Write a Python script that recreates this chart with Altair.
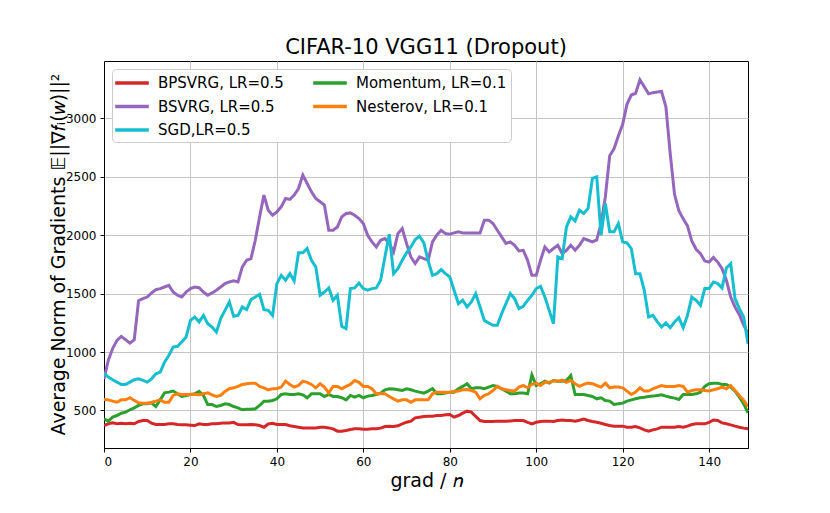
import altair as alt
import pandas as pd

steps = list(range(150))

bpsvrg = [371, 386, 394, 386, 391, 386, 391, 386, 406, 414, 414, 391, 380, 380, 380, 386, 386, 380, 377, 377,
          374, 371, 386, 380, 380, 386, 386, 391, 394, 394, 399, 380, 377, 377, 380, 377, 371, 357, 385, 391,
          380, 380, 380, 369, 363, 357, 351, 351, 351, 351, 357, 357, 351, 343, 323, 323, 329, 337, 343, 343,
          340, 340, 343, 343, 349, 363, 366, 363, 369, 386, 400, 409, 437, 443, 449, 451, 451, 457, 457, 463,
          466, 443, 457, 477, 494, 486, 449, 414, 406, 406, 406, 409, 409, 409, 411, 414, 414, 414, 399, 386,
          399, 406, 409, 409, 406, 414, 419, 414, 414, 409, 417, 426, 414, 406, 399, 391, 380, 371, 366, 366,
          366, 357, 357, 363, 351, 334, 323, 334, 343, 357, 357, 357, 357, 363, 357, 366, 380, 386, 386, 386,
          399, 419, 414, 394, 386, 377, 366, 357, 349, 343]

bsvrg = [770, 930, 1030, 1100, 1134, 1106, 1077, 1106, 1440, 1457, 1471, 1506, 1534, 1543, 1557, 1571, 1514, 1486, 1471, 1514,
         1543, 1557, 1551, 1514, 1486, 1506, 1529, 1557, 1586, 1600, 1609, 1600, 1729, 1786, 1800, 1957, 2157, 2343, 2214, 2171,
         2200, 2243, 2314, 2306, 2343, 2400, 2514, 2443, 2371, 2314, 2286, 2257, 2043, 2043, 2071, 2157, 2186, 2191, 2171, 2143,
         2100, 2000, 1943, 1900, 1957, 1971, 1929, 1857, 2014, 2057, 1929, 1814, 1757, 1814, 1800, 1786, 1943, 2000, 2043, 2014,
         2009, 2020, 2029, 2020, 2020, 2020, 2020, 2020, 2129, 2129, 2100, 2043, 1986, 1929, 1943, 1914, 1866, 1871, 1786, 1657,
         1657, 1786, 1900, 1857, 1886, 1914, 1843, 1871, 1914, 1871, 1914, 1971, 1957, 1943, 1960, 2100, 2330, 2680, 2740, 2850,
         2950, 3120, 3200, 3215, 3330, 3270, 3210, 3220, 3225, 3230, 3100, 2700, 2350, 2210, 2140, 2080, 1950, 1880, 1843, 1780,
         1770, 1810, 1770, 1714, 1614, 1471, 1386, 1320, 1230, 1160]

sgd = [820, 786, 763, 743, 723, 723, 743, 763, 771, 757, 743, 771, 814, 829, 914, 971, 1043, 1049, 1086, 1129,
       1271, 1300, 1257, 1314, 1243, 1214, 1171, 1286, 1357, 1429, 1306, 1314, 1386, 1363, 1449, 1471, 1494, 1363, 1357, 1314,
       1586, 1657, 1614, 1671, 1609, 1849, 1849, 1886, 1786, 1729, 1486, 1514, 1549, 1443, 1486, 1220, 1200, 1543, 1549, 1591,
       1543, 1529, 1543, 1549, 1614, 1814, 2009, 1671, 1714, 1786, 1849, 1900, 1963, 1991, 1934, 1780, 1657, 1671, 1706, 1671,
       1643, 1529, 1414, 1443, 1386, 1429, 1500, 1386, 1271, 1249, 1229, 1229, 1329, 1414, 1500, 1457, 1371, 1391, 1443, 1486,
       1543, 1563, 1471, 1357, 1243, 1814, 1800, 2071, 2157, 2123, 2214, 2186, 2229, 2486, 2500, 2000, 2271, 2029, 2029, 2100,
       1943, 1934, 1886, 1671, 1671, 1529, 1300, 1314, 1260, 1214, 1249, 1209, 1257, 1294, 1209, 1314, 1471, 1443, 1400, 1543,
       1543, 1600, 1586, 1549, 1720, 1757, 1457, 1371, 1300, 1071]

momentum = [429, 409, 443, 457, 477, 486, 506, 523, 543, 557, 557, 566, 534, 591, 651, 657, 666, 643, 620, 629,
            637, 643, 663, 629, 551, 551, 534, 543, 557, 551, 534, 523, 506, 511, 511, 514, 543, 580, 580, 586,
            600, 637, 643, 637, 637, 643, 634, 609, 643, 643, 643, 620, 637, 620, 620, 609, 591, 629, 614, 629,
            609, 623, 629, 637, 649, 677, 686, 683, 677, 671, 686, 677, 666, 657, 649, 666, 686, 643, 643, 649,
            657, 657, 686, 706, 729, 686, 694, 694, 686, 700, 714, 706, 686, 666, 643, 643, 649, 649, 643, 805,
            714, 729, 751, 734, 757, 751, 751, 757, 800, 637, 637, 637, 629, 620, 600, 609, 586, 580, 551, 557,
            563, 580, 591, 600, 609, 614, 620, 623, 629, 634, 623, 614, 606, 594, 637, 637, 637, 643, 657, 706,
            729, 734, 734, 723, 723, 700, 666, 614, 557, 480]

nesterov = [594, 591, 580, 571, 591, 591, 609, 586, 566, 563, 563, 571, 580, 591, 571, 571, 629, 643, 637, 637,
            637, 637, 634, 643, 651, 634, 620, 629, 663, 686, 694, 706, 723, 729, 734, 734, 706, 694, 677, 686,
            686, 700, 751, 723, 700, 714, 751, 741, 723, 694, 729, 700, 651, 706, 706, 686, 706, 723, 757, 741,
            706, 706, 686, 643, 643, 643, 620, 600, 580, 591, 591, 571, 591, 591, 591, 591, 643, 657, 657, 657,
            657, 663, 666, 677, 680, 671, 657, 600, 629, 643, 671, 706, 686, 677, 671, 666, 700, 714, 694, 723,
            734, 714, 741, 741, 754, 751, 760, 741, 757, 729, 706, 723, 734, 729, 714, 700, 734, 694, 700, 700,
            694, 666, 637, 657, 694, 666, 666, 686, 700, 714, 706, 706, 706, 714, 706, 657, 671, 677, 677, 671,
            666, 677, 686, 700, 686, 714, 671, 629, 586, 534]

names = ["BPSVRG, LR=0.5", "BSVRG, LR=0.5", "SGD,LR=0.5", "Momentum, LR=0.1", "Nesterov, LR=0.1"]
colors = ["#d62728", "#9467bd", "#17becf", "#2ca02c", "#ff7f0e"]
series = [bpsvrg, bsvrg, sgd, momentum, nesterov]

x_ticks = [0, 20, 40, 60, 80, 100, 120, 140]
y_ticks = [500, 1000, 1500, 2000, 2500, 3000]

rows = []
for name, vals in zip(names, series):
    for s, v in zip(steps, vals):
        rows.append({"step": s, "value": v, "series": name})
df = pd.DataFrame(rows)

FONT = "DejaVu Sans"

color_enc = alt.Color(
    "series:N",
    scale=alt.Scale(domain=names, range=colors),
    legend=alt.Legend(
        title=None,
        orient="none",
        legendX=8,
        legendY=8,
        columns=2,
        columnPadding=22,
        rowPadding=5.5,
        symbolType="M-2.1,0H2.1",
        symbolSize=256,
        symbolStrokeWidth=3.5,
        symbolOffset=6,
        labelFontSize=15,
        labelFont=FONT,
        labelColor="black",
        labelOffset=16,
        padding=4,
        fillColor="white",
        strokeColor="#cccccc",
        cornerRadius=4,
        labelLimit=300,
    ),
)

x_enc = alt.X(
    "step:Q",
    scale=alt.Scale(domain=[0, 149], nice=False, zero=False),
    axis=alt.Axis(
        values=x_ticks,
        title="grad / 𝑛",
        titleFontSize=19,
        titleFont=FONT,
        titleFontWeight="normal",
        titleColor="black",
        titleY=38,
        titleBaseline="alphabetic",
    ),
)
y_enc = alt.Y(
    "value:Q",
    scale=alt.Scale(domain=[179, 3491], nice=False, zero=False),
    axis=alt.Axis(
        values=y_ticks,
        format="d",
        title="Average Norm of Gradients 𝔼||∇𝑓ᵢ(𝑤)||²",
        titleFontSize=19,
        titleFont=FONT,
        titleFontWeight="normal",
        titleColor="black",
        titleX=-40,
        titleY=193,
        titleAngle=270,
        titleBaseline="alphabetic",
    ),
)

layers = []
for name in names:
    layers.append(
        alt.Chart(df)
        .transform_filter(alt.datum.series == name)
        .mark_line(strokeWidth=3, clip=True)
        .encode(x=x_enc, y=y_enc, color=color_enc)
    )

chart = (
    alt.layer(*layers)
    .properties(
        width=644,
        height=387,
        padding={"left": 96, "top": 53, "right": 70, "bottom": 55},
        autosize=alt.AutoSizeParams(type="none"),
        title=alt.TitleParams(
            "CIFAR-10 VGG11 (Dropout)",
            fontSize=21,
            font=FONT,
            fontWeight="normal",
            color="black",
            anchor="middle",
            offset=3,
        ),
    )
    .configure_view(stroke="black", strokeWidth=1)
    .configure_axis(
        grid=True,
        gridColor="#c4c4c4",
        gridWidth=1,
        domainColor="black",
        tickColor="black",
        tickSize=4,
        labelFontSize=12,
        labelFont=FONT,
        labelColor="black",
        labelPadding=4,
    )
)

chart.save("out.html", embed_options={"renderer": "svg", "actions": False})
